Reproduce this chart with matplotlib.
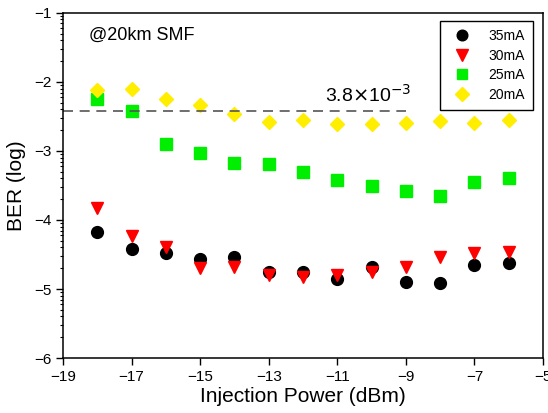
import numpy as np
import matplotlib
matplotlib.use("Agg")
import matplotlib.pyplot as plt
from matplotlib.ticker import FixedLocator

plt.rcParams['font.family'] = ['Liberation Sans', 'DejaVu Sans']

# 数据 (BER 取 log10)
power = [-18, -17, -16, -15, -14, -13, -12, -11, -10, -9, -8, -7, -6]
ber_35mA = [-4.17, -4.42, -4.48, -4.57, -4.54, -4.76, -4.76, -4.86, -4.68, -4.90, -4.91, -4.65, -4.62]
ber_30mA = [-3.83, -4.23, -4.39, -4.70, -4.68, -4.80, -4.83, -4.80, -4.75, -4.68, -4.54, -4.48, -4.46]
ber_25mA = [-2.25, -2.42, -2.90, -3.03, -3.17, -3.19, -3.31, -3.42, -3.51, -3.58, -3.65, -3.45, -3.39]
ber_20mA = [-2.12, -2.10, -2.25, -2.33, -2.46, -2.58, -2.55, -2.61, -2.61, -2.59, -2.57, -2.59, -2.55]
fec_limit = 3.8e-3
fec_xmax = -9

fig = plt.figure(figsize=(5.48, 4.13), dpi=100)
ax = fig.add_axes([0.115, 0.133, 0.876, 0.836])

ax.plot(power, ber_35mA, 'o', color='black', ms=8.5, mec='black', label='35mA')
ax.plot(power, ber_30mA, 'v', color='#ff0000', ms=9, mec='#ff0000', label='30mA')
ax.plot(power, ber_25mA, 's', color='#00ee00', ms=8, mec='#00ee00', label='25mA')
ax.plot(power, ber_20mA, 'D', color='#ffee00', ms=7.5, mec='#ffee00', label='20mA')

# FEC 门限
y_fec = np.log10(fec_limit)
ax.plot([-19, fec_xmax], [y_fec, y_fec], linestyle=(0, (6, 4)), color='#555555', lw=1.2)
ax.text(-11.35, y_fec + 0.07, r'3.8$\times$10$^{-3}$', fontsize=14, va='bottom')

ax.text(-18.25, -1.32, '@20km SMF', fontsize=13, va='center')

ax.set_xlim(-19, -5)
ax.set_ylim(-6, -1)
ax.set_xticks(range(-19, -4, 2))
ax.set_yticks(range(-6, 0))

# 对数形式的次刻度
minor = []
for n in range(1, 6):
    for k in range(2, 10):
        minor.append(-n - (1 - np.log10(k)))
ax.yaxis.set_minor_locator(FixedLocator(minor))

ax.tick_params(axis='both', which='major', direction='out', length=5, labelsize=11, width=1)
ax.tick_params(axis='y', which='minor', direction='out', length=2.5, width=0.8)
ax.set_xlabel('Injection Power (dBm)', fontsize=15, labelpad=2)
ax.set_ylabel('BER (log)', fontsize=15, labelpad=6)

for s in ax.spines.values():
    s.set_linewidth(1.1)

leg = ax.legend(loc='upper right', bbox_to_anchor=(0.979, 0.977), borderaxespad=0,
                fontsize=10, fancybox=False, edgecolor='black', framealpha=1,
                handletextpad=0.9, borderpad=0.6, labelspacing=0.4, markerscale=0.9)
leg.get_frame().set_linewidth(1.0)

fig.savefig('out.png', dpi=100)
